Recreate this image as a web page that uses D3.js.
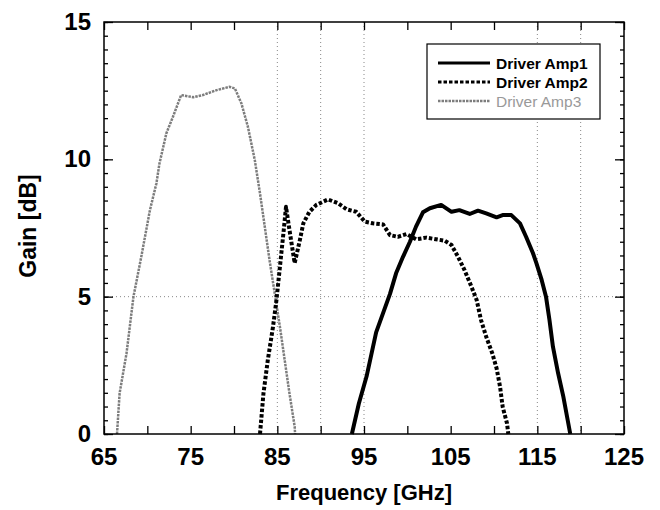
<!DOCTYPE html>
<html>
<head>
<meta charset="utf-8">
<script src="https://cdn.jsdelivr.net/npm/d3@7"></script>
<style>
    body { margin: 0; background: #fff; }
    text { font-family: "Liberation Sans", Arial, sans-serif; }
</style>
</head>
<body>
<div id="chart"></div>
<script>
// frequency [GHz] / gain [dB]
var amp1Freq = [93.6, 94.4, 95.3, 95.85, 96.4, 97.2, 98.0, 98.7, 99.5, 100.3, 101.0, 101.8, 102.6, 103.9, 105.1, 106.0, 107.2, 108.15, 109.1, 110.3, 111.0, 112.0, 113.0, 113.7, 114.5, 114.9, 115.5, 116.0, 116.4, 116.8, 117.4, 118.0, 118.5, 118.8];
var amp1Gain = [0, 1.1, 2.1, 2.9, 3.7, 4.4, 5.1, 5.85, 6.45, 7.0, 7.55, 8.07, 8.22, 8.34, 8.09, 8.15, 8.01, 8.13, 8.03, 7.89, 7.97, 7.97, 7.67, 7.18, 6.58, 6.21, 5.61, 5.0, 4.15, 3.18, 2.21, 1.36, 0.51, 0];

var amp2Freq = [83.0, 83.4, 83.9, 84.5, 84.9, 85.3, 85.7, 86.0, 86.4, 87.0, 87.6, 88.0, 88.7, 89.5, 90.85, 92.0, 93.0, 94.1, 95.1, 96.0, 97.2, 98.0, 98.9, 99.9, 101.0, 102.2, 103.3, 104.3, 105.1, 105.85, 106.6, 107.4, 108.0, 108.5, 109.1, 109.8, 110.3, 110.7, 111.0, 111.5, 111.65];
var amp2Gain = [0, 1.48, 2.69, 3.9, 4.88, 6.09, 7.3, 8.27, 7.43, 6.22, 7.06, 7.67, 8.09, 8.34, 8.54, 8.4, 8.18, 8.09, 7.73, 7.67, 7.63, 7.24, 7.18, 7.28, 7.09, 7.15, 7.09, 7.04, 6.88, 6.45, 5.97, 5.36, 4.88, 4.15, 3.54, 2.94, 2.39, 1.72, 0.99, 0.39, 0];

var amp3Freq = [66.5, 66.8, 67.6, 68.4, 69.3, 70.3, 71.05, 71.4, 72.2, 72.96, 73.9, 75.3, 76.4, 78.0, 79.5, 80.1, 80.85, 81.6, 82.4, 83.0, 83.55, 84.1, 84.7, 85.3, 85.85, 86.4, 87.0, 87.05];
var amp3Gain = [0, 1.48, 2.94, 5.0, 6.45, 8.15, 9.13, 9.85, 10.95, 11.55, 12.34, 12.26, 12.34, 12.52, 12.64, 12.58, 12.04, 11.19, 9.97, 8.76, 7.55, 6.33, 5.12, 3.9, 2.69, 1.48, 0.27, 0];

var seriesNames = ['Driver Amp1', 'Driver Amp2', 'Driver Amp3'];
var xTickLabels = [65, 75, 85, 95, 105, 115, 125];
var yTickLabels = [0, 5, 10, 15];
var xGridValues = [85, 90, 95, 115, 120];
var yGridValues = [5];

var w = 660, h = 510;
var margin = { top: 22, right: 36, bottom: 76, left: 104 },
    width = w - margin.left - margin.right,
    height = h - margin.top - margin.bottom;

var svg = d3.select('#chart')
    .append('svg')
    .attr('width', w)
    .attr('height', h)
    .append('g')
    .attr('transform', 'translate(' + margin.left + ',' + margin.top + ')');

// set the ranges
var x = d3.scaleLinear().domain([65, 125]).range([0, width]);
var y = d3.scaleLinear().domain([0, 15]).range([height, 0]);

// dotted grid
svg.selectAll('.gx')
    .data(xGridValues)
    .enter().append('line')
    .attr('x1', function (d) { return x(d); })
    .attr('x2', function (d) { return x(d); })
    .attr('y1', 0)
    .attr('y2', height)
    .attr('stroke', '#888')
    .attr('stroke-width', 1)
    .attr('stroke-dasharray', '1,3');
svg.selectAll('.gy')
    .data(yGridValues)
    .enter().append('line')
    .attr('x1', 0)
    .attr('x2', width)
    .attr('y1', function (d) { return y(d); })
    .attr('y2', function (d) { return y(d); })
    .attr('stroke', '#888')
    .attr('stroke-width', 1)
    .attr('stroke-dasharray', '1,3');

// the curves
var series = [
    { name: seriesNames[0], f: amp1Freq, g: amp1Gain, color: '#000', sw: 4, dash: null },
    { name: seriesNames[1], f: amp2Freq, g: amp2Gain, color: '#000', sw: 4, dash: '3.5,2' },
    { name: seriesNames[2], f: amp3Freq, g: amp3Gain, color: '#7d7d7d', sw: 2.5, dash: '2.5,1' }
];

var valueline = d3.line()
    .x(function (d) { return x(d[0]); })
    .y(function (d) { return y(d[1]); });

series.slice().reverse().forEach(function (s) {
    var pts = s.f.map(function (f, i) { return [f, s.g[i]]; });
    svg.append('path')
        .datum(pts)
        .attr('fill', 'none')
        .attr('stroke', s.color)
        .attr('stroke-width', s.sw)
        .attr('stroke-dasharray', s.dash)
        .attr('stroke-linejoin', 'round')
        .attr('d', valueline);
});

// axes: ticks inward on all four sides
svg.append('g')
    .attr('transform', 'translate(0,' + height + ')')
    .call(d3.axisBottom(x).tickValues(d3.range(65, 126, 5)).tickSizeInner(-8).tickSizeOuter(0).tickFormat(''));
svg.append('g')
    .call(d3.axisTop(x).tickValues(d3.range(65, 126, 5)).tickSizeInner(-8).tickSizeOuter(0).tickFormat(''));
svg.append('g')
    .call(d3.axisLeft(y).tickValues(d3.range(0, 15.01, 0.5)).tickSizeInner(-4).tickSizeOuter(0).tickFormat(''));
svg.append('g')
    .call(d3.axisLeft(y).tickValues(d3.range(0, 15.01, 5)).tickSizeInner(-9).tickSizeOuter(0).tickFormat(''));
svg.append('g')
    .attr('transform', 'translate(' + width + ',0)')
    .call(d3.axisRight(y).tickValues(d3.range(0, 15.01, 0.5)).tickSizeInner(-4).tickSizeOuter(0).tickFormat(''));
svg.append('g')
    .attr('transform', 'translate(' + width + ',0)')
    .call(d3.axisRight(y).tickValues(d3.range(0, 15.01, 5)).tickSizeInner(-9).tickSizeOuter(0).tickFormat(''));
svg.selectAll('.domain').remove();
svg.selectAll('.tick line').attr('stroke', '#000').attr('stroke-width', 1.3);

// frame
svg.append('rect')
    .attr('width', width)
    .attr('height', height)
    .attr('fill', 'none')
    .attr('stroke', '#000')
    .attr('stroke-width', 1.5);

// tick labels
svg.selectAll('.xl')
    .data(xTickLabels)
    .enter().append('text')
    .attr('x', function (d) { return x(d); })
    .attr('y', height + 31)
    .attr('text-anchor', 'middle')
    .attr('font-size', 24)
    .attr('font-weight', 'bold')
    .text(function (d) { return d; });
svg.selectAll('.yl')
    .data(yTickLabels)
    .enter().append('text')
    .attr('x', -13)
    .attr('y', function (d) { return y(d) + 8; })
    .attr('text-anchor', 'end')
    .attr('font-size', 24)
    .attr('font-weight', 'bold')
    .text(function (d) { return d; });

// axis titles
svg.append('text')
    .attr('x', width / 2)
    .attr('y', height + 66)
    .attr('text-anchor', 'middle')
    .attr('font-size', 22)
    .attr('font-weight', 'bold')
    .text('Frequency [GHz]');
svg.append('text')
    .attr('transform', 'translate(-68,' + (height / 2 - 2) + ') rotate(-90)')
    .attr('text-anchor', 'middle')
    .attr('font-size', 23)
    .attr('font-weight', 'bold')
    .text('Gain [dB]');

// legend
var lg = svg.append('g').attr('transform', 'translate(' + (427 - margin.left) + ',' + (44 - margin.top) + ')');
lg.append('rect')
    .attr('width', 173)
    .attr('height', 75)
    .attr('fill', '#fff')
    .attr('stroke', '#000')
    .attr('stroke-width', 1.2);
var textColors = ['#000', '#000', '#999'];
series.forEach(function (s, i) {
    var cy = 19 + i * 19;
    lg.append('line')
        .attr('x1', 11).attr('x2', 63)
        .attr('y1', cy).attr('y2', cy)
        .attr('stroke', s.color)
        .attr('stroke-width', i === 2 ? 2.5 : 3)
        .attr('stroke-dasharray', s.dash);
    lg.append('text')
        .attr('x', 69)
        .attr('y', cy + 6)
        .attr('font-size', 15.5)
        .attr('font-weight', i === 2 ? 'normal' : 'bold')
        .attr('fill', textColors[i])
        .text(s.name);
});
</script>
</body>
</html>
